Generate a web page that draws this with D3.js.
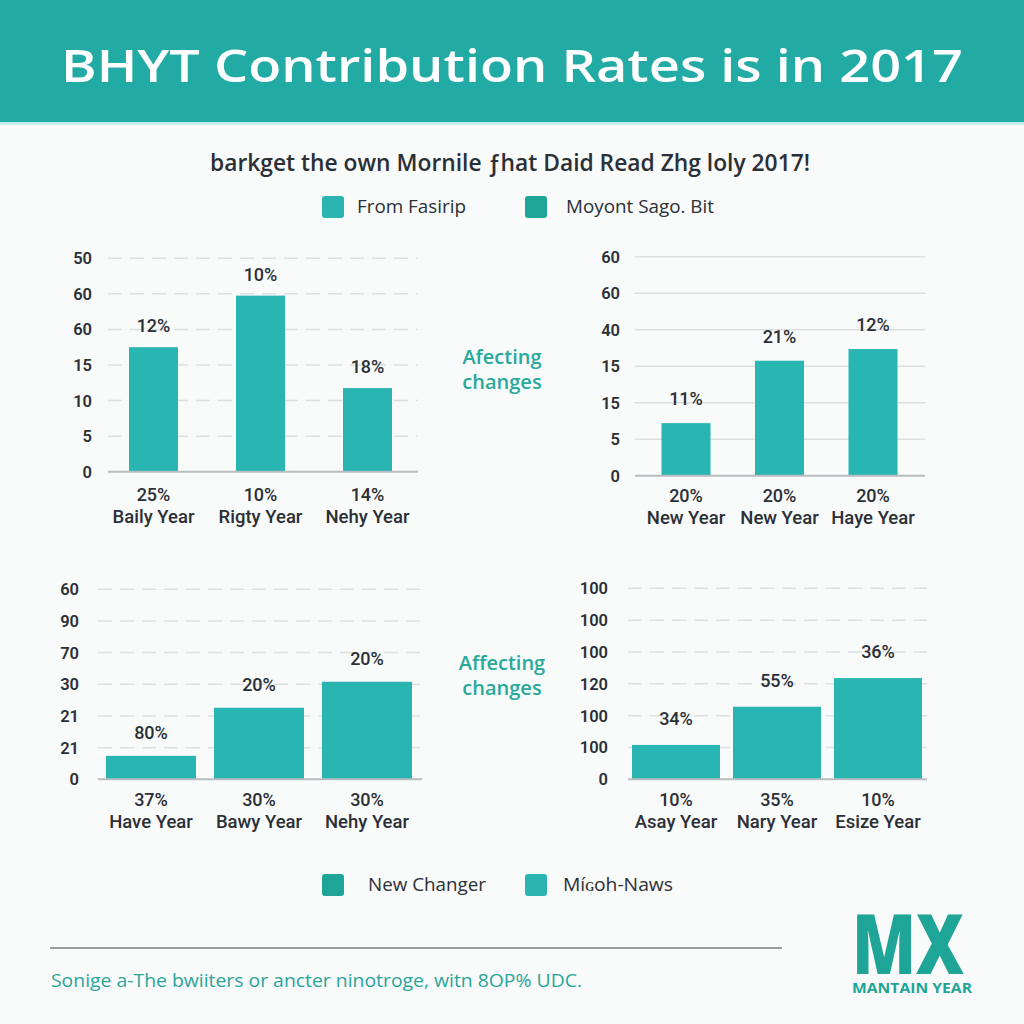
<!DOCTYPE html>
<html><head><meta charset="utf-8">
<script src="https://cdn.jsdelivr.net/npm/d3@7"></script>
<style>html,body{margin:0;padding:0;background:#f9fafa;}svg{display:block;}</style>
</head><body>
<svg id="chart" width="1024" height="1024"></svg>
<script>
// ---------- DATA ----------
const titleText = "BHYT Contribution Rates is in 2017";
const subtitleText = "barkget the own Mornile \u0192hat Daid Read Zhg loly 2017!";
const topLegend = ["From Fasirip", "Moyont Sago. Bit"];
const bottomLegend = ["New Changer", "M\u00ed\u0262oh-Naws"];
const sideNote = ["Afecting", "changes"];
const sideNote2 = ["Affecting", "changes"];
const footerText = "Sonige a-The bwiiters or ancter ninotroge, witn 8OP% UDC.";
const logoMain = "MX";
const logoSub = "MANTAIN YEAR";

// panel 1 (top left)
const p1Categories = ["Baily Year", "Rigty Year", "Nehy Year"];
const p1Values = [3.5, 4.95, 2.35];           // bar height in gridline units
const p1Labels = ["12%", "10%", "18%"];
const p1Sub = ["25%", "10%", "14%"];
const p1Ticks = ["0", "5", "10", "15", "60", "60", "50"];
// panel 2 (top right)
const p2Categories = ["New Year", "New Year ", "Haye Year"];
const p2Values = [1.44, 3.15, 3.47];
const p2Labels = ["11%", "21%", "12%"];
const p2Sub = ["20%", "20%", "20%"];
const p2Ticks = ["0", "5", "15", "15", "40", "60", "60"];
// panel 3 (bottom left)
const p3Categories = ["Have Year", "Bawy Year", "Nehy Year"];
const p3Values = [0.74, 2.26, 3.08];
const p3Labels = ["80%", "20%", "20%"];
const p3Sub = ["37%", "30%", "30%"];
const p3Ticks = ["0", "21", "21", "30", "70", "90", "60"];
// panel 4 (bottom right)
const p4Categories = ["Asay Year", "Nary Year", "Esize Year"];
const p4Values = [1.08, 2.28, 3.18];
const p4Labels = ["34%", "55%", "36%"];
const p4Sub = ["10%", "35%", "10%"];
const p4Ticks = ["0", "100", "100", "120", "100", "100", "100"];

// ---------- STYLE / LAYOUT ----------
const BAR = "#29b5b1";
const TEAL_DARK = "#1fa597";
const TEXT = "#2b2f36";
const svg = d3.select("#chart");

svg.append("rect").attr("x",0).attr("y",0).attr("width",1024).attr("height",1024).attr("fill","#f9fafa");
svg.append("rect").attr("x",0).attr("y",0).attr("width",1024).attr("height",122).attr("fill","#21aba4");
svg.append("rect").attr("x",0).attr("y",122).attr("width",1024).attr("height",3).attr("fill","#c6efec");
svg.append("text").attr("x",512).attr("y",82).attr("text-anchor","middle")
  .attr("font-family","Open Sans").attr("font-weight",600).attr("font-size",46)
  .attr("fill","#ffffff").attr("textLength",902).attr("lengthAdjust","spacingAndGlyphs").text(titleText);

svg.append("text").attr("x",510).attr("y",171).attr("text-anchor","middle")
  .attr("font-family","Open Sans").attr("font-weight",600).attr("font-size",23)
  .attr("fill",TEXT).attr("textLength",600).attr("lengthAdjust","spacingAndGlyphs").text(subtitleText);

function legend(items, colors, xs, textXs, y, widths, fs) {
  items.forEach((t,i) => {
    svg.append("rect").attr("x",xs[i]).attr("y",y).attr("width",22).attr("height",22).attr("rx",3).attr("fill",colors[i]);
    svg.append("text").attr("x",textXs[i]).attr("y",y+17).attr("font-family","Open Sans").attr("font-size",fs)
      .attr("fill",TEXT).attr("textLength",widths[i]).attr("lengthAdjust","spacingAndGlyphs").text(t);
  });
}
legend(topLegend, ["#2ab5b0", TEAL_DARK], [322,525], [357,566], 196, [109,148], 18);
legend(bottomLegend, [TEAL_DARK, "#2ab5b0"], [322,525], [368,563], 874, [118,110], 19);

function panel(cfg) {
  const g = svg.append("g");
  const y = d3.scaleLinear().domain([0, 6]).range([cfg.y0, cfg.y0 - 6*cfg.unit]);
  const x = d3.scalePoint().domain(cfg.cats).range([cfg.c0, cfg.c1]);
  d3.range(1, 7).forEach(i => {
    g.append("line").attr("x1",cfg.gx0).attr("x2",cfg.gx1).attr("y1",y(i)).attr("y2",y(i))
      .attr("stroke","#dcdfe0").attr("stroke-width",1.5)
      .attr("stroke-dasharray", cfg.dashed ? "14,8" : null);
  });
  cfg.ticks.forEach((t,i) => {
    g.append("text").attr("x",cfg.lx).attr("y",y(i)+6).attr("text-anchor","end")
      .attr("font-family","Roboto").attr("font-weight",600).attr("font-size",16.5).attr("fill",TEXT).text(t);
  });
  g.selectAll("rect.bar").data(cfg.vals).join("rect").attr("class","bar")
    .attr("x",(d,i)=>x(cfg.cats[i]) - cfg.bw/2).attr("width",cfg.bw)
    .attr("y",d=>y(d)).attr("height",d=>y(0)-y(d)).attr("fill",BAR);
  g.append("line").attr("x1",cfg.gx0).attr("x2",cfg.gx1).attr("y1",y(0)).attr("y2",y(0))
    .attr("stroke","#b9bdbf").attr("stroke-width",2);
  cfg.vals.forEach((d,i) => {
    g.append("text").attr("x",x(cfg.cats[i])).attr("y",y(d)-cfg.off+6).attr("text-anchor","middle")
      .attr("font-family","Roboto").attr("font-weight",500).attr("font-size",18).attr("fill",TEXT).text(cfg.labels[i]);
    g.append("text").attr("x",x(cfg.cats[i])).attr("y",cfg.sy+6).attr("text-anchor","middle")
      .attr("font-family","Roboto").attr("font-weight",500).attr("font-size",18).attr("fill",TEXT).text(cfg.sub[i]);
    g.append("text").attr("x",x(cfg.cats[i])).attr("y",cfg.sy+28).attr("text-anchor","middle")
      .attr("font-family","Roboto").attr("font-weight",500).attr("font-size",18.5).attr("fill",TEXT).text(cfg.cats[i].trim());
  });
}

panel({cats:p1Categories, vals:p1Values, labels:p1Labels, sub:p1Sub, ticks:p1Ticks,
  y0:471.7, unit:35.57, c0:153.5, c1:367.5, bw:49, gx0:108, gx1:418, lx:92, dashed:true, off:21, sy:495});
panel({cats:p2Categories, vals:p2Values, labels:p2Labels, sub:p2Sub, ticks:p2Ticks,
  y0:475.7, unit:36.5, c0:686, c1:873, bw:49, gx0:635, gx1:925, lx:620, dashed:false, off:24, sy:496});
panel({cats:p3Categories, vals:p3Values, labels:p3Labels, sub:p3Sub, ticks:p3Ticks,
  y0:779.3, unit:31.67, c0:151, c1:367, bw:90, gx0:98, gx1:422, lx:79, dashed:true, off:23, sy:800});
panel({cats:p4Categories, vals:p4Values, labels:p4Labels, sub:p4Sub, ticks:p4Ticks,
  y0:779.3, unit:31.83, c0:676, c1:878, bw:88, gx0:628, gx1:927, lx:608, dashed:true, off:26, sy:800});

function note(lines, cx, y1, y2) {
  [y1,y2].forEach((yy,i) => {
    svg.append("text").attr("x",cx).attr("y",yy+7).attr("text-anchor","middle")
      .attr("font-family","Open Sans").attr("font-weight",600).attr("font-size",20)
      .attr("fill","#27a99c").text(lines[i]);
  });
}
note(sideNote, 502, 357, 382);
note(sideNote2, 502, 663, 688);

svg.append("line").attr("x1",50).attr("x2",782).attr("y1",948).attr("y2",948).attr("stroke","#9b9d9e").attr("stroke-width",2);
svg.append("text").attr("x",51).attr("y",987).attr("font-family","Open Sans").attr("font-size",19)
  .attr("fill","#2aa59a").attr("textLength",531).attr("lengthAdjust","spacingAndGlyphs").text(footerText);
svg.append("text").attr("x",852).attr("y",974).attr("font-family","Open Sans").attr("font-weight",800).attr("font-size",84)
  .attr("fill",TEAL_DARK).attr("textLength",112).attr("lengthAdjust","spacingAndGlyphs").text(logoMain);
svg.append("text").attr("x",852).attr("y",993).attr("font-family","Open Sans").attr("font-weight",700).attr("font-size",15)
  .attr("fill",TEAL_DARK).attr("textLength",120).attr("lengthAdjust","spacingAndGlyphs").text(logoSub);
</script>
</body></html>
